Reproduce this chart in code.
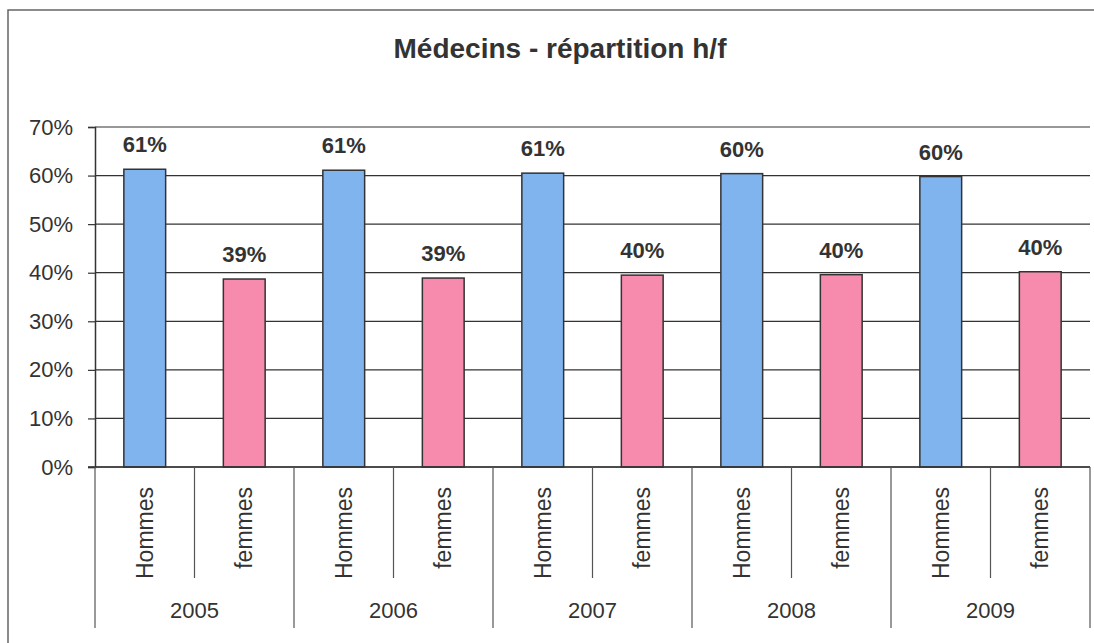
<!DOCTYPE html>
<html>
<head>
<meta charset="utf-8">
<script src="https://cdn.jsdelivr.net/npm/d3@7"></script>
<style>
  body { margin: 0; background: #fff; }
  text { font-family: "Liberation Sans", Arial, sans-serif; fill: #333; }
</style>
</head>
<body>
<div id="chart"></div>
<script>
// data
const years = ["2005", "2006", "2007", "2008", "2009"]
const sexes = ["Hommes", "femmes"]
const hommes = [61.3, 61.1, 60.5, 60.4, 59.8]
const femmes = [38.7, 38.9, 39.5, 39.6, 40.2]
const yTicks = [0, 10, 20, 30, 40, 50, 60, 70]
const colors = { Hommes: "#80b4ef", femmes: "#f68bad" }

const width = 1094
const height = 643
const margins = { left: 95, right: 4, top: 127, bottom: 176 }

const rows = years.flatMap((y, i) => [
  { year: y, sex: "Hommes", v: hommes[i] },
  { year: y, sex: "femmes", v: femmes[i] },
])

const svg = d3
  .select("#chart")
  .append("svg")
  .attr("width", width)
  .attr("height", height)

// outer frame (left + top)
svg
  .append("path")
  .attr("d", `M8,${height} L8,10 L${width},10`)
  .attr("fill", "none")
  .attr("stroke", "#666")
  .attr("stroke-width", 1.5)

const x = d3
  .scaleBand()
  .domain(rows.map((d) => d.year + "|" + d.sex))
  .range([margins.left, width - margins.right])

const yScale = d3
  .scaleLinear()
  .domain([0, 70])
  .range([height - margins.bottom, margins.top])

// title
svg
  .append("text")
  .attr("x", 560)
  .attr("y", 58)
  .attr("text-anchor", "middle")
  .style("font-size", "28px")
  .style("font-weight", "bold")
  .text("Médecins - répartition h/f")

// gridlines
svg
  .selectAll(".grid")
  .data(yTicks)
  .join("line")
  .attr("class", "grid")
  .attr("x1", margins.left)
  .attr("x2", width - margins.right)
  .attr("y1", (d) => yScale(d))
  .attr("y2", (d) => yScale(d))
  .attr("stroke", "#333")
  .attr("stroke-width", 1.2)

// y axis
const yAxis = svg
  .append("g")
  .attr("transform", `translate(${margins.left},0)`)
  .call(
    d3
      .axisLeft(yScale)
      .tickValues(yTicks)
      .tickSize(7)
      .tickPadding(15)
      .tickFormat((d) => d + "%")
  )
yAxis.select(".domain").attr("stroke", "#333").attr("stroke-width", 1.5)
yAxis.selectAll(".tick line").attr("stroke", "#333").attr("stroke-width", 1.2)
yAxis
  .selectAll(".tick text")
  .style("font-size", "22px")
  .style("fill", "#333")
  .style("font-family", "Liberation Sans, Arial, sans-serif")

// bars
const bw = x.bandwidth() * 0.42
svg
  .selectAll(".bar")
  .data(rows)
  .join("rect")
  .attr("class", "bar")
  .attr("x", (d) => x(d.year + "|" + d.sex) + (x.bandwidth() - bw) / 2)
  .attr("y", (d) => yScale(d.v))
  .attr("width", bw)
  .attr("height", (d) => yScale(0) - yScale(d.v))
  .attr("fill", (d) => colors[d.sex])
  .attr("stroke", "#333")
  .attr("stroke-width", 1.5)

// value labels
svg
  .selectAll(".val")
  .data(rows)
  .join("text")
  .attr("class", "val")
  .attr("x", (d) => x(d.year + "|" + d.sex) + x.bandwidth() / 2)
  .attr("y", (d) => yScale(d.v) - 17)
  .attr("text-anchor", "middle")
  .style("font-size", "22px")
  .style("font-weight", "bold")
  .text((d) => Math.round(d.v) + "%")

// x axis baseline
const y0 = yScale(0)
svg
  .append("line")
  .attr("x1", margins.left - 7)
  .attr("x2", width - margins.right)
  .attr("y1", y0)
  .attr("y2", y0)
  .attr("stroke", "#333")
  .attr("stroke-width", 1.5)

// separators between sexes (short) and years (long)
svg
  .selectAll(".sepIn")
  .data(years)
  .join("line")
  .attr("class", "sepIn")
  .attr("x1", (d) => x(d + "|femmes"))
  .attr("x2", (d) => x(d + "|femmes"))
  .attr("y1", y0)
  .attr("y2", y0 + 111)
  .attr("stroke", "#555")
  .attr("stroke-width", 1.2)

svg
  .selectAll(".sepOut")
  .data(years.concat(["end"]))
  .join("line")
  .attr("class", "sepOut")
  .attr("x1", (d) => (d === "end" ? width - margins.right : x(d + "|Hommes")))
  .attr("x2", (d) => (d === "end" ? width - margins.right : x(d + "|Hommes")))
  .attr("y1", y0)
  .attr("y2", y0 + 161)
  .attr("stroke", "#555")
  .attr("stroke-width", 1.2)

// category labels (rotated)
svg
  .selectAll(".cat")
  .data(rows)
  .join("text")
  .attr("class", "cat")
  .attr(
    "transform",
    (d) =>
      `translate(${x(d.year + "|" + d.sex) + x.bandwidth() / 2 + 8},${y0 + 20}) rotate(-90)`
  )
  .attr("text-anchor", "end")
  .style("font-size", "23px")
  .text((d) => d.sex)

// year labels
svg
  .selectAll(".year")
  .data(years)
  .join("text")
  .attr("class", "year")
  .attr("x", (d) => x(d + "|femmes"))
  .attr("y", y0 + 151)
  .attr("text-anchor", "middle")
  .style("font-size", "22px")
  .text((d) => d)
</script>
</body>
</html>
